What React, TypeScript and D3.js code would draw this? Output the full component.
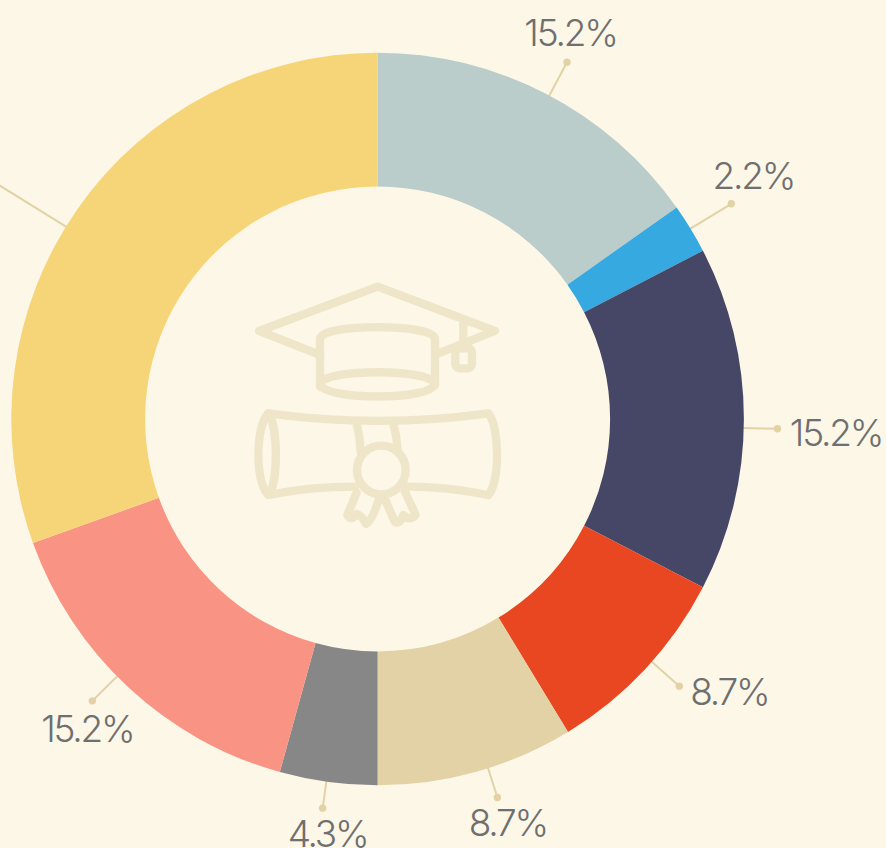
import React from "react";
import * as d3 from "d3";

const labels = ["15.2%", "2.2%", "15.2%", "8.7%", "8.7%", "4.3%", "15.2%", ""];
const values = [15.2, 2.2, 15.2, 8.7, 8.7, 4.3, 15.2, 30.5];
const colors = ["#bacdcb", "#36a9e1", "#464766", "#e84722", "#e2d2a6", "#878787", "#f99383", "#f6d478"];

// layout of the leader lines and labels
const dotRadii = [404, 414, 400, 403, 397, 393, 401, 460];
const leaderShiftDeg = [0.6, 0, 1.4, -1.5, -1.9, 0.3, 2.5, -3.4];
const labelDx = [3.5, 22, 58.5, 50, 10.5, 5, -5, 0];
const labelDy = [-30, -28, 4, 5, 25, 25, 28, 0];

const BG = "#fdf7e7";
const LINE = "#e2d2a6";
const W = 886, H = 848, CX = 377.6, CY = 419, R0 = 232.5, R1 = 366.3;

const pie = d3.pie<number>().sort(null).value((d) => d);
const arc = d3.arc<d3.PieArcDatum<number>>().innerRadius(R0).outerRadius(R1);

const iconPaths = [
  "M240,255 L57,183 L413,50 L765,183 L595,250",
  "M670,150 V225",
  "M240,350 V205 C250,160 575,160 585,205 V345",
  "M240,342 C250,295 575,295 585,342 C575,392 250,392 240,342 Z",
  "M85,430 Q415,475 745,430 C780,470 780,640 745,675 Q620,650 500,650",
  "M345,650 Q210,650 85,675 C45,640 45,470 85,430 C115,470 115,640 85,675",
  "M350,460 Q360,500 362,545",
  "M460,460 Q470,500 474,545",
  "M350,668 L322,735 Q335,755 350,732 Q365,735 378,762 Q395,755 416,690",
  "M436,690 L464,755 Q480,765 490,735 Q510,755 527,735 L495,665",
];

export default function App() {
  const arcs = pie(values);
  const geo = arcs.map((a, i) => {
    const mid = (a.startAngle + a.endAngle) / 2 + (leaderShiftDeg[i] * Math.PI) / 180;
    return { ux: Math.sin(mid), uy: -Math.cos(mid), r: dotRadii[i] };
  });
  return (
    <svg
      width={W}
      height={H}
      viewBox={`0 0 ${W} ${H}`}
      style={{ position: "fixed", left: 0, top: 0, background: BG, display: "block" }}
    >
      <rect width={W} height={H} fill={BG} />
      <g transform={`translate(${CX},${CY})`}>
        {geo.map((g, i) => (
          <g key={i}>
            <line
              x1={g.ux * (R1 - 2)} y1={g.uy * (R1 - 2)}
              x2={g.ux * g.r} y2={g.uy * g.r}
              stroke={LINE} strokeWidth={2}
            />
            <circle cx={g.ux * g.r} cy={g.uy * g.r} r={3.7} fill={LINE} />
          </g>
        ))}
        {arcs.map((a, i) => (
          <path key={i} d={arc(a) ?? ""} fill={colors[i]} />
        ))}
        {geo.map((g, i) =>
          labels[i] ? (
            <text
              key={i}
              x={g.ux * g.r + labelDx[i]}
              y={g.uy * g.r + labelDy[i]}
              textAnchor="middle"
              dominantBaseline="central"
              fontFamily="Inter, 'Noto Sans', sans-serif"
              fontWeight={300}
              fontSize={37}
              letterSpacing={-2.2}
              fill="#6f6f6f"
            >
              {labels[i]}
            </text>
          ) : null
        )}
      </g>
      <g
        transform="translate(240,270) scale(0.3333)"
        fill="none"
        stroke="#efe5c9"
        strokeWidth={25}
        strokeLinejoin="round"
        strokeLinecap="round"
      >
        {iconPaths.map((d) => (
          <path key={d} d={d} />
        ))}
        <rect x={646} y={235} width={50} height={60} rx={12} />
        <circle cx={424} cy={600} r={73} />
      </g>
    </svg>
  );
}
